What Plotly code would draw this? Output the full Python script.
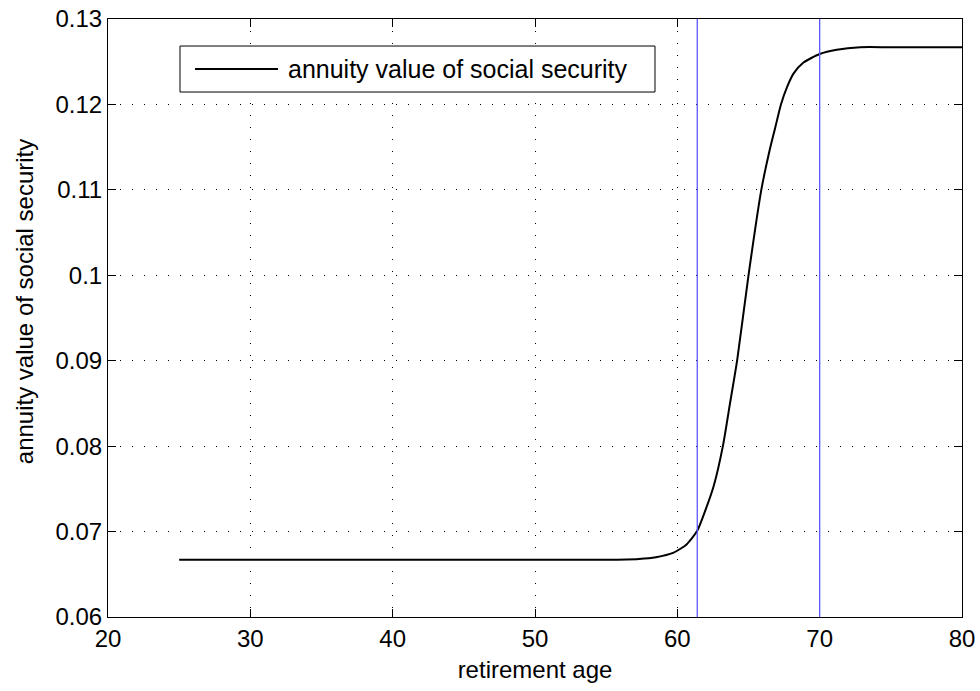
import plotly.graph_objects as go

# Data
age = [25, 30, 35, 40, 45, 50, 55, 57.3, 58.5, 59.7, 60.65, 61.4, 61.95, 62.55, 63.2,
       63.7, 64.2, 65.0, 65.9, 66.48, 66.88, 67.28, 67.7, 68.16, 68.86,
       70.0, 71.2, 72.85, 75.0, 80.0]
value = [0.0667, 0.0667, 0.0667, 0.0667, 0.0667, 0.0667, 0.0667, 0.0668, 0.0670,
         0.0675, 0.0685, 0.0701, 0.0724, 0.0753, 0.0800, 0.0850, 0.0900, 0.1000,
         0.1100, 0.1146, 0.1173, 0.1200, 0.1220, 0.1236, 0.1249,
         0.1259, 0.1264, 0.1267, 0.1267, 0.1267]
vlines = [61.4, 70.0]
series_name = "annuity value of social security"
x_title = "retirement age"
y_title = "annuity value of social security"
x_ticks = [20, 30, 40, 50, 60, 70, 80]
y_ticks = [0.06, 0.07, 0.08, 0.09, 0.10, 0.11, 0.12, 0.13]
y_tick_labels = ["0.06", "0.07", "0.08", "0.09", "0.1", "0.11", "0.12", "0.13"]

FONT = "Liberation Sans, Arial, sans-serif"

fig = go.Figure()
fig.add_trace(go.Scatter(x=age, y=value, mode="lines", name=series_name,
                         line=dict(color="black", width=2, shape="spline", smoothing=0.6),
                         showlegend=False))
for v in vlines:
    fig.add_vline(x=v, line=dict(color="rgb(90,90,255)", width=1.3))

# Legend drawn as a MATLAB-style box
fig.add_shape(type="rect", xref="paper", yref="paper", x0=0.0843, x1=0.6405,
              y0=0.8779, y1=0.9548, line=dict(color="black", width=1),
              fillcolor="white", layer="above")
fig.add_shape(type="line", xref="paper", yref="paper", x0=0.1019, x1=0.1991,
              y0=0.9164, y1=0.9164, line=dict(color="black", width=2), layer="above")
fig.add_annotation(xref="paper", yref="paper", x=0.2084, y=0.9164, xanchor="left",
                   yanchor="middle", text=series_name, showarrow=False,
                   font=dict(family=FONT, size=25, color="black"))

# y-axis title (placed like MATLAB's ylabel)
fig.add_annotation(xref="paper", yref="paper", x=-0.0984, y=0.528, xanchor="center",
                   yanchor="middle", text=y_title, textangle=-90, showarrow=False,
                   font=dict(family=FONT, size=24, color="black"))

axis_common = dict(showline=True, linecolor="black", linewidth=1, mirror="ticks",
                   ticks="inside", ticklen=8, tickcolor="black", showgrid=True,
                   gridcolor="black", gridwidth=1, griddash="1px,11px", zeroline=False,
                   automargin=False,
                   tickfont=dict(family=FONT, size=24, color="black"))

fig.update_xaxes(range=[20, 80], tickvals=x_ticks,
                 title=dict(text=x_title, font=dict(family=FONT, size=24, color="black"),
                            standoff=10),
                 **axis_common)
fig.update_yaxes(range=[0.06, 0.13], tickvals=y_ticks, ticktext=y_tick_labels,
                 **axis_common)

fig.update_layout(width=980, height=691, margin=dict(l=108, r=18, t=19, b=74),
                  plot_bgcolor="white", paper_bgcolor="white",
                  font=dict(family=FONT, color="black"))

fig.write_html("out.html", config={"displayModeBar": False},
               post_script="document.body.style.margin='0';document.body.style.overflow='hidden';")
